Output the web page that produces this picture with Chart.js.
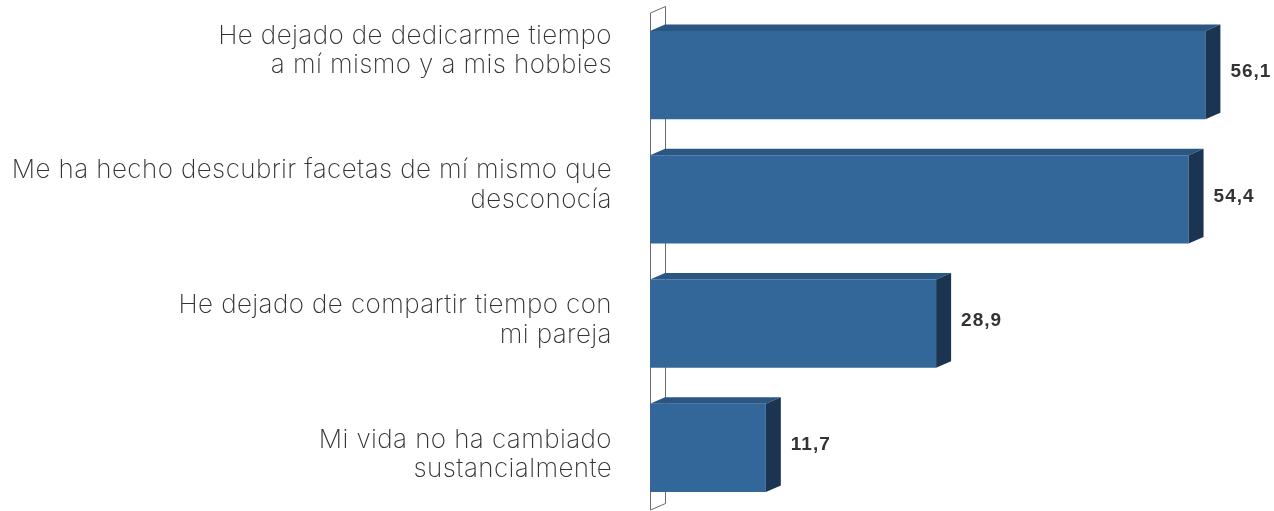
<!DOCTYPE html>
<html>
<head>
<meta charset="utf-8">
<script src="https://cdn.jsdelivr.net/npm/chart.js@4/dist/chart.umd.min.js"></script>
<style>
  html, body { margin: 0; padding: 0; background: #fff; }
  #wrap { width: 1274px; height: 511px; }
</style>
</head>
<body>
<div id="wrap"><canvas id="myChart"></canvas></div>
<script>
const categories = [
  ['He dejado de dedicarme tiempo', 'a mí mismo y a mis hobbies'],
  ['Me ha hecho descubrir facetas de mí mismo que', 'desconocía'],
  ['He dejado de compartir tiempo con', 'mi pareja'],
  ['Mi vida no ha cambiado', 'sustancialmente'],
];
const values = [56.1, 54.4, 28.9, 11.7];

const frontColor = '#336699';
const topColor = '#2a5684';
const sideColor = '#1b3452';
const depthX = 15;
const depthY = 6.5;

// back wall + 3d faces + value labels
const bars3d = {
  id: 'bars3d',
  beforeDraw(chart) {
    chart.ctx.letterSpacing = '0.4px';
  },
  beforeDatasetsDraw(chart) {
    const { ctx, chartArea } = chart;
    const l = chartArea.left, t = chartArea.top, b = chartArea.bottom;
    ctx.save();
    ctx.strokeStyle = '#6b6b6b';
    ctx.lineWidth = 1;
    ctx.fillStyle = '#ffffff';
    ctx.beginPath();
    ctx.moveTo(l + 0.5, b);
    ctx.lineTo(l + 0.5, t);
    ctx.lineTo(l + depthX + 0.5, t - depthY);
    ctx.lineTo(l + depthX + 0.5, b - depthY);
    ctx.closePath();
    ctx.fill();
    ctx.stroke();
    ctx.restore();
  },
  afterDatasetsDraw(chart) {
    const { ctx } = chart;
    const meta = chart.getDatasetMeta(0);
    ctx.save();
    meta.data.forEach((bar, i) => {
      const { x, y, base, height } = bar.getProps(['x', 'y', 'base', 'height'], true);
      const top = y - height / 2;
      const bottom = y + height / 2;
      // top face
      ctx.fillStyle = topColor;
      ctx.beginPath();
      ctx.moveTo(base, top);
      ctx.lineTo(base + depthX, top - depthY);
      ctx.lineTo(x + depthX, top - depthY);
      ctx.lineTo(x, top);
      ctx.closePath();
      ctx.fill();
      // side face
      ctx.fillStyle = sideColor;
      ctx.beginPath();
      ctx.moveTo(x, top);
      ctx.lineTo(x + depthX, top - depthY);
      ctx.lineTo(x + depthX, bottom - depthY);
      ctx.lineTo(x, bottom);
      ctx.closePath();
      ctx.fill();
      // value
      ctx.letterSpacing = '1px';
      ctx.fillStyle = '#333333';
      ctx.font = 'bold 19px "Liberation Sans", Arial, sans-serif';
      ctx.textAlign = 'left';
      ctx.textBaseline = 'middle';
      ctx.fillText(values[i].toFixed(1).replace('.', ','), x + depthX + 10, y - 3);
    });
    ctx.restore();
  },
};

const myChartRef = document.getElementById('myChart').getContext('2d');
new Chart(myChartRef, {
  type: 'bar',
  data: {
    labels: categories,
    datasets: [{
      label: 'Results',
      data: values,
      yAxisID: 'y',
      backgroundColor: frontColor,
      borderWidth: 0,
      categoryPercentage: 0.71,
      barPercentage: 1,
    }],
  },
  options: {
    indexAxis: 'y',
    animation: false,
    responsive: true,
    maintainAspectRatio: false,
    layout: { padding: { top: 13, bottom: 1, right: 30, left: 0 } },
    plugins: {
      legend: { display: false },
      tooltip: { enabled: false },
    },
    scales: {
      x: {
        display: false,
        min: 0,
        max: 60,
      },
      y: {
        display: false,
      },
      // label axis: the text block sits on a slightly wider pitch than the bars
      labelsAxis: {
        type: 'linear',
        axis: 'y',
        position: 'left',
        reverse: true,
        offset: false,
        min: -0.28,
        max: 3.41,
        afterBuildTicks: (scale) => {
          scale.ticks = categories.map((c, i) => ({ value: i }));
        },
        afterFit: (scale) => {
          scale.width = 650;
          scale.paddingTop = 0;
          scale.paddingBottom = 0;
        },
        border: { display: false },
        grid: { display: false, drawTicks: false },
        ticks: {
          autoSkip: false,
          padding: 38,
          color: '#333333',
          callback: (value) => categories[value],
          font: { family: 'Inter', size: 26, weight: 200, lineHeight: 1.14 },
        },
      },
    },
  },
  plugins: [bars3d],
});
</script>
</body>
</html>
